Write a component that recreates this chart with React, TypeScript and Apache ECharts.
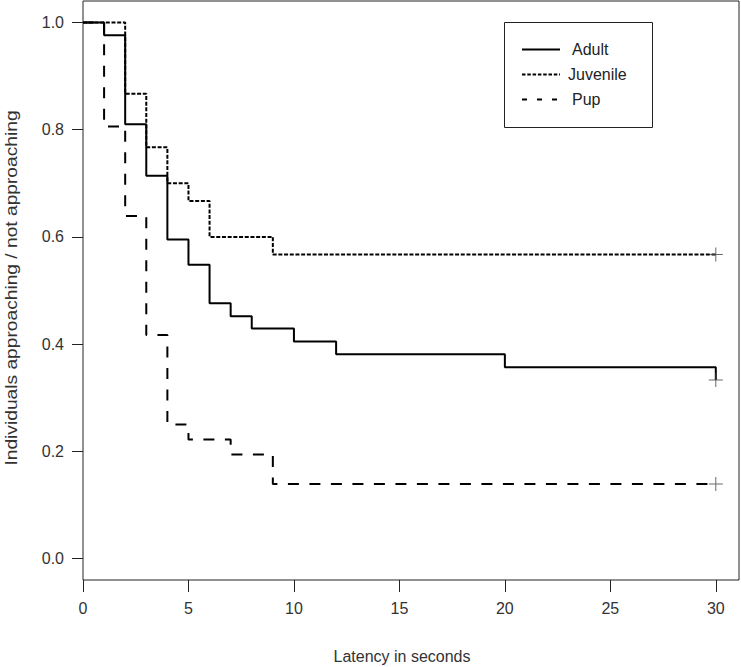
import React, { useEffect, useRef } from "react";
import * as echarts from "echarts";

const seriesNames = ["Adult", "Juvenile", "Pup"];

const adultTimes = [0, 1, 2, 3, 4, 5, 6, 7, 8, 10, 12, 20, 30];
const adultSurv = [1.0, 0.976, 0.81, 0.714, 0.595, 0.548, 0.476, 0.452, 0.429, 0.405, 0.381, 0.357, 0.333];

const juvTimes = [0, 2, 3, 4, 5, 6, 9, 30];
const juvSurv = [1.0, 0.867, 0.767, 0.7, 0.667, 0.6, 0.567, 0.567];

const pupTimes = [0, 1, 2, 3, 4, 5, 7, 9, 30];
const pupSurv = [1.0, 0.806, 0.639, 0.417, 0.25, 0.222, 0.194, 0.139, 0.139];

const censorTime = [30, 30, 30];
const censorSurv = [0.333, 0.567, 0.139];

const xTicks = [0, 5, 10, 15, 20, 25, 30];
const yTicks = [0, 0.2, 0.4, 0.6, 0.8, 1.0];

const xTitle = "Latency in seconds";
const yTitle = "Individuals approaching / not approaching";

const zip = (a: number[], b: number[]) => a.map((v, i) => [v, b[i]]);

export default function App() {
  const ref = useRef<HTMLDivElement>(null);
  useEffect(() => {
    document.body.style.margin = "0";
    const chart = echarts.init(ref.current!, null, { renderer: "svg" });
    const font = "Liberation Sans, Arial, Helvetica, sans-serif";
    const lineBase = { type: "line", symbol: "none", step: "end", silent: true };
    const dashes: any[] = [null, [3.5, 1.8], [5, 10]];
    const textX = [572, 568, 572];
    const legendGraphics: any[] = [];
    seriesNames.forEach((n, i) => {
      const y = 49.5 + i * 25;
      legendGraphics.push({
        type: "line",
        shape: { x1: 522, y1: y, x2: 560, y2: y },
        style: { stroke: "#000", lineWidth: 2, lineDash: dashes[i] },
        z: 10,
      });
      legendGraphics.push({
        type: "text",
        x: textX[i],
        y: y,
        style: {
          text: n,
          fontSize: 16,
          fontFamily: font,
          fill: "#222",
          textAlign: "left",
          textVerticalAlign: "middle",
        },
        z: 10,
      });
    });
    chart.setOption({
      animation: false,
      backgroundColor: "#fff",
      grid: {
        left: 83,
        right: 2,
        top: 1,
        bottom: 87,
        show: true,
        borderColor: "#222",
        borderWidth: 1,
        backgroundColor: "transparent",
      },
      xAxis: {
        type: "value",
        min: 0,
        max: 31.1,
        axisLine: { show: false, onZero: false },
        splitLine: { show: false },
        axisTick: { show: true, length: 12, customValues: xTicks, lineStyle: { color: "#222" } },
        axisLabel: {
          customValues: xTicks,
          margin: 20,
          color: "#333",
          fontSize: 16,
          fontFamily: font,
        },
      },
      yAxis: {
        type: "value",
        min: -0.04,
        max: 1.04,
        axisLine: { show: false, onZero: false },
        splitLine: { show: false },
        axisTick: { show: true, length: 11, customValues: yTicks, lineStyle: { color: "#222" } },
        axisLabel: {
          customValues: yTicks,
          margin: 19,
          color: "#333",
          fontSize: 16,
          fontFamily: font,
          formatter: (v: number) => v.toFixed(1),
        },
      },
      graphic: [
        {
          type: "rect",
          shape: { x: 504.5, y: 22.5, width: 148, height: 105 },
          style: { fill: "#fff", stroke: "#222", lineWidth: 1 },
          z: 9,
        },
        ...legendGraphics,
        {
          type: "text",
          x: 402,
          y: 656,
          style: {
            text: xTitle,
            fontSize: 16,
            fontFamily: font,
            fill: "#333",
            textAlign: "center",
            textVerticalAlign: "middle",
          },
        },
        {
          type: "text",
          x: 12,
          y: 288,
          rotation: Math.PI / 2,
          scaleX: 1.2,
          style: {
            text: yTitle,
            fontSize: 16,
            fontFamily: font,
            fill: "#333",
            textAlign: "center",
            textVerticalAlign: "middle",
          },
        },
      ],
      series: [
        {
          ...lineBase,
          name: seriesNames[0],
          data: zip(adultTimes, adultSurv),
          lineStyle: { color: "#000", width: 2, type: "solid" },
          itemStyle: { color: "#000" },
        },
        {
          ...lineBase,
          name: seriesNames[1],
          data: zip(juvTimes, juvSurv),
          lineStyle: { color: "#000", width: 2, type: [4, 1.7] },
          itemStyle: { color: "#000" },
        },
        {
          ...lineBase,
          name: seriesNames[2],
          data: zip(pupTimes, pupSurv),
          lineStyle: { color: "#000", width: 2, type: [11, 10.5] },
          itemStyle: { color: "#000" },
        },
        {
          type: "scatter",
          name: "censored",
          silent: true,
          data: zip(censorTime, censorSurv),
          symbol: "path://M0,6.5H14V7.5H0Z M6.5,0H7.5V14H6.5Z",
          symbolSize: 14,
          itemStyle: { color: "#444" },
          z: 5,
        },
      ],
    });
    return () => chart.dispose();
  }, []);
  return <div ref={ref} style={{ width: 741, height: 667 }} />;
}
